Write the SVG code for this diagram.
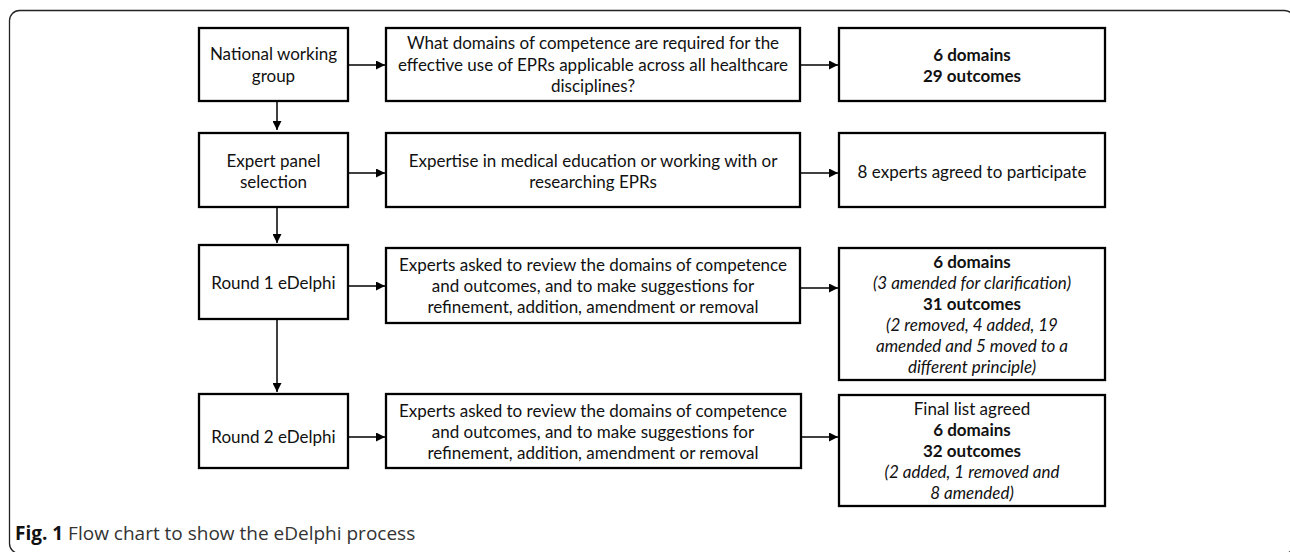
<svg xmlns="http://www.w3.org/2000/svg" width="1290" height="552" viewBox="0 0 1290 552">
<defs>
<marker id="ah" markerWidth="9" markerHeight="9" refX="9" refY="4.5" orient="auto" markerUnits="userSpaceOnUse">
<path d="M0,0 L9,4.5 L0,9 Z" fill="#000"/>
</marker>
<style>
.box{fill:#fff;stroke:#000;stroke-width:2.3}
.t{font-family:Lato,"Liberation Sans",sans-serif;font-size:17px;fill:#111;text-anchor:middle}
.b{font-weight:bold}
.i{font-style:italic}
.c{stroke:#000;stroke-width:1.5;fill:none}
.cap{font-family:"Open Sans","Liberation Sans",sans-serif;font-size:19px;fill:#333}
</style>
</defs>
<rect x="0" y="0" width="1290" height="552" fill="#fff"/>
<rect id="frame" x="9.5" y="10.5" width="1285" height="543" rx="10" ry="10" fill="none" stroke="#222" stroke-width="1.3"/>

<g id="connectors">
<line class="c" x1="349" y1="65" x2="385" y2="65" marker-end="url(#ah)"/>
<line class="c" x1="801" y1="65" x2="838" y2="65" marker-end="url(#ah)"/>
<line class="c" x1="349" y1="173" x2="385" y2="173" marker-end="url(#ah)"/>
<line class="c" x1="801" y1="173" x2="838" y2="173" marker-end="url(#ah)"/>
<line class="c" x1="349" y1="286" x2="385" y2="286" marker-end="url(#ah)"/>
<line class="c" x1="801" y1="288" x2="838" y2="288" marker-end="url(#ah)"/>
<line class="c" x1="349" y1="437" x2="385" y2="437" marker-end="url(#ah)"/>
<line class="c" x1="802" y1="437" x2="838" y2="437" marker-end="url(#ah)"/>
<line class="c" x1="277" y1="102" x2="277" y2="130" marker-end="url(#ah)"/>
<line class="c" x1="277" y1="208" x2="277" y2="243" marker-end="url(#ah)"/>
<line class="c" x1="277" y1="320" x2="277" y2="392" marker-end="url(#ah)"/>
</g>

<g id="n1"><rect class="box" x="199" y="28" width="149" height="73"/>
<text class="t" x="273.5" y="60">National working<tspan x="273.5" dy="21.5">group</tspan></text></g>
<g id="n2"><rect class="box" x="386" y="28" width="414" height="73"/>
<text class="t" x="593" y="49">What domains of competence are required for the<tspan x="593" dy="21.7">effective use of EPRs applicable across all healthcare</tspan><tspan x="593" dy="21.7">disciplines?</tspan></text></g>
<g id="n3"><rect class="box" x="839" y="28" width="266" height="73"/>
<text class="t b" x="972" y="61">6 domains<tspan x="972" dy="21">29 outcomes</tspan></text></g>

<g id="n4"><rect class="box" x="199" y="133" width="149" height="74"/>
<text class="t" x="273.5" y="167">Expert panel<tspan x="273.5" dy="21">selection</tspan></text></g>
<g id="n5"><rect class="box" x="386" y="133" width="414" height="74"/>
<text class="t" x="593" y="167">Expertise in medical education or working with or<tspan x="593" dy="21">researching EPRs</tspan></text></g>
<g id="n6"><rect class="box" x="839" y="133" width="266" height="74"/>
<text class="t" x="972" y="178">8 experts agreed to participate</text></g>

<g id="n7"><rect class="box" x="199" y="245" width="149" height="74"/>
<text class="t" x="273.5" y="289">Round 1 eDelphi</text></g>
<g id="n8"><rect class="box" x="386" y="248" width="414" height="75"/>
<text class="t" x="593" y="271">Experts asked to review the domains of competence<tspan x="593" dy="21">and outcomes, and to make suggestions for</tspan><tspan x="593" dy="21">refinement, addition, amendment or removal</tspan></text></g>
<g id="n9"><rect class="box" x="839" y="248" width="266" height="132"/>
<text class="t" x="972" y="268"><tspan class="b">6 domains</tspan><tspan class="i" x="972" dy="21">(3 amended for clarification)</tspan><tspan class="b" x="972" dy="21">31 outcomes</tspan><tspan class="i" x="972" dy="21">(2 removed, 4 added, 19</tspan><tspan class="i" x="972" dy="21">amended and 5 moved to a</tspan><tspan class="i" x="972" dy="21">different principle)</tspan></text></g>

<g id="n10"><rect class="box" x="199" y="394" width="149" height="74"/>
<text class="t" x="273.5" y="443">Round 2 eDelphi</text></g>
<g id="n11"><rect class="box" x="386" y="394" width="415" height="74"/>
<text class="t" x="593" y="417">Experts asked to review the domains of competence<tspan x="593" dy="21">and outcomes, and to make suggestions for</tspan><tspan x="593" dy="21">refinement, addition, amendment or removal</tspan></text></g>
<g id="n12"><rect class="box" x="839" y="395" width="266" height="111"/>
<text class="t" x="972" y="415">Final list agreed<tspan class="b" x="972" dy="21">6 domains</tspan><tspan class="b" x="972" dy="21">32 outcomes</tspan><tspan class="i" x="972" dy="21">(2 added, 1 removed and</tspan><tspan class="i" x="972" dy="21">8 amended)</tspan></text></g>

<text class="cap" x="15" y="540"><tspan font-weight="bold" fill="#111">Fig. 1</tspan> Flow chart to show the eDelphi process</text>
</svg>
